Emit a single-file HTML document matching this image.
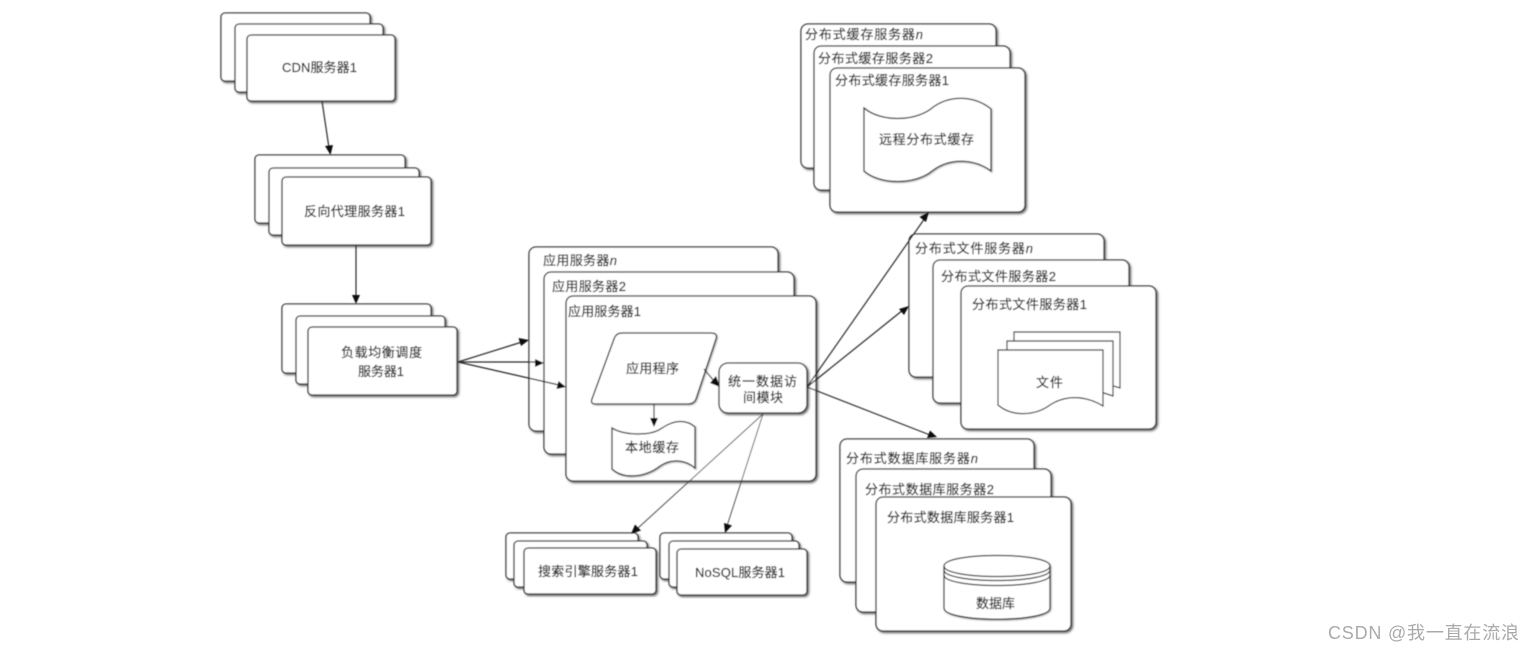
<!DOCTYPE html>
<html lang="zh">
<head>
<meta charset="utf-8">
<title>架构图</title>
<style>
html,body{margin:0;padding:0;background:#fff;}
body{width:1535px;height:652px;overflow:hidden;}
svg{display:block;}
.b{fill:#fff;stroke:#2e2e2e;stroke-width:1.3;filter:url(#sh);}
.s{fill:#fff;stroke:#333;stroke-width:1.3;filter:url(#sh2);}
.p{fill:#fff;stroke:#333;stroke-width:1.2;}
.l{fill:none;stroke:#2a2a2a;stroke-width:1.2;}
.t{fill:none;stroke:#444;stroke-width:0.9;}
.h{fill:#111;stroke:none;}
text{font-family:"Liberation Sans","Noto Sans CJK SC",sans-serif;font-size:13px;fill:#222;stroke:#222;stroke-width:0.2;}
.wm{font-size:18px;fill:#aaa;stroke:none;}
</style>
</head>
<body>
<svg width="1535" height="652" viewBox="0 0 1535 652" xmlns="http://www.w3.org/2000/svg">
<defs>
<filter id="sh" x="-5%" y="-5%" width="112%" height="112%">
<feDropShadow dx="1.5" dy="1.5" stdDeviation="1" flood-color="#444" flood-opacity="0.8"/>
</filter>
<filter id="sh2" x="-5%" y="-5%" width="112%" height="112%">
<feDropShadow dx="0.8" dy="0.8" stdDeviation="0.7" flood-color="#666" flood-opacity="0.6"/>
</filter>
<filter id="blur" x="0" y="0" width="100%" height="100%" filterUnits="userSpaceOnUse" primitiveUnits="userSpaceOnUse">
<feGaussianBlur stdDeviation="0.55"/>
</filter>
</defs>
<rect width="1535" height="652" fill="#fff"/>
<g filter="url(#blur)">
<!-- CDN -->
<rect class="b" x="221" y="13" width="149" height="68" rx="4"/>
<rect class="b" x="235" y="24" width="148" height="68" rx="4"/>
<rect class="b" x="247" y="35" width="148" height="66" rx="4"/>
<text x="282" y="72" textLength="75">CDN服务器1</text>
<!-- Reverse proxy -->
<rect class="b" x="255" y="155" width="150" height="68" rx="4"/>
<rect class="b" x="269" y="168" width="150" height="67" rx="4"/>
<rect class="b" x="282" y="177" width="149" height="68" rx="4"/>
<text x="304" y="216" textLength="101">反向代理服务器1</text>
<!-- Load balancer -->
<rect class="b" x="282" y="304" width="149" height="69" rx="4"/>
<rect class="b" x="296" y="316" width="149" height="68" rx="4"/>
<rect class="b" x="308" y="327" width="149" height="68" rx="4"/>
<text x="341" y="357" textLength="81">负载均衡调度</text>
<text x="358" y="376" textLength="46">服务器1</text>
<!-- App servers -->
<rect class="b" x="529" y="247" width="249" height="184" rx="7"/>
<rect class="b" x="544" y="272" width="250" height="182" rx="7"/>
<rect class="b" x="566" y="296" width="250" height="185" rx="7"/>
<text x="543" y="265" textLength="74">应用服务器<tspan font-style="italic">n</tspan></text>
<text x="552" y="291" textLength="74">应用服务器2</text>
<text x="568" y="316" textLength="73">应用服务器1</text>
<path class="s" d="M622 333H711Q718 333 716 339L696 399Q694 404 688 404H596Q590 404 592 399L614 339Q616 333 622 333Z"/>
<text x="626" y="373" textLength="53">应用程序</text>
<rect class="b" x="719" y="363" width="88" height="50" rx="9"/>
<text x="728" y="386" textLength="69">统一数据访</text>
<text x="743" y="402" textLength="40">间模块</text>
<path class="s" d="M612 428C622 435 650 437 662 428C674 420 686 419 695 427V468C686 460 672 458 660 466C646 477 624 480 612 469Z"/>
<text x="625" y="452" textLength="54">本地缓存</text>
<!-- Cache servers -->
<rect class="b" x="801" y="24" width="195" height="144" rx="7"/>
<rect class="b" x="814" y="46" width="196" height="144" rx="7"/>
<rect class="b" x="830" y="68" width="195" height="144" rx="7"/>
<text x="805" y="39" textLength="118">分布式缓存服务器<tspan font-style="italic">n</tspan></text>
<text x="818" y="63" textLength="115">分布式缓存服务器2</text>
<text x="835" y="85" textLength="114">分布式缓存服务器1</text>
<path class="s" d="M864 108C880 122 915 122 932 108C950 94 975 96 991 109V171C975 159 950 157 932 171C915 185 880 185 864 171Z"/>
<text x="879" y="144" textLength="95">远程分布式缓存</text>
<!-- File servers -->
<rect class="b" x="909" y="234" width="195" height="143" rx="7"/>
<rect class="b" x="933" y="260" width="196" height="143" rx="7"/>
<rect class="b" x="961" y="286" width="195" height="143" rx="7"/>
<text x="915" y="253" textLength="118">分布式文件服务器<tspan font-style="italic">n</tspan></text>
<text x="941" y="281" textLength="115">分布式文件服务器2</text>
<text x="972" y="309" textLength="115">分布式文件服务器1</text>
<path class="p" d="M1014 332H1120V388L1100 382H1014Z"/>
<path class="p" d="M1007 341H1113V396L1095 390H1007Z"/>
<path class="p" d="M998 350H1103V406C1085 395 1065 395 1050 405C1035 416 1012 417 998 405Z"/>
<text x="1036" y="387" textLength="27">文件</text>
<!-- DB servers -->
<rect class="b" x="840" y="439" width="194" height="143" rx="7"/>
<rect class="b" x="856" y="469" width="195" height="143" rx="7"/>
<rect class="b" x="876" y="497" width="195" height="134" rx="7"/>
<text x="846" y="463" textLength="132">分布式数据库服务器<tspan font-style="italic">n</tspan></text>
<text x="865" y="494" textLength="129">分布式数据库服务器2</text>
<text x="887" y="522" textLength="127">分布式数据库服务器1</text>
<path class="s" d="M944 566C944 552 1050 552 1050 566V608C1050 623 944 623 944 608Z"/>
<path class="l" d="M944 566C944 580 1050 580 1050 566M944 570C944 584 1050 584 1050 570M944 575C944 589 1050 589 1050 575"/>
<text x="976" y="608" textLength="39">数据库</text>
<!-- Search -->
<rect class="b" x="506" y="533" width="132" height="46" rx="4"/>
<rect class="b" x="514" y="541" width="133" height="46" rx="4"/>
<rect class="b" x="524" y="548" width="132" height="46" rx="4"/>
<text x="538" y="576" textLength="100">搜索引擎服务器1</text>
<!-- NoSQL -->
<rect class="b" x="660" y="533" width="132" height="46" rx="4"/>
<rect class="b" x="669" y="541" width="130" height="46" rx="4"/>
<rect class="b" x="677" y="549" width="130" height="46" rx="4"/>
<text x="695" y="577" textLength="90">NoSQL服务器1</text>
<!-- Connectors -->
<path class="l" d="M322 101L329 148"/>
<polygon class="h" points="330.500,155 325,146 333,145"/>
<path class="l" d="M356 245V297"/>
<polygon class="h" points="356,304 352,295 360,295"/>
<path class="l" d="M458 362L522 342M458 362H537M458 362L559 385"/>
<polygon class="h" points="529,340 521,346 518.500,338"/>
<polygon class="h" points="544,363 535,367 535,359"/>
<polygon class="h" points="566,387 556.500,389 558.500,381"/>
<path class="l" d="M704 369L714 381"/>
<polygon class="h" points="720,387 710,383 716,376"/>
<path class="l" d="M654 404V420"/>
<polygon class="h" points="654,427 650,418 658,418"/>
<path class="l" d="M807 387L925 218M807 387L903 310M807 387L930 435"/>
<polygon class="h" points="929,212 926,222 919.500,217"/>
<polygon class="h" points="909,306 904,315 899,309"/>
<polygon class="h" points="937,437 927,438 930,430.500"/>
<path class="t" d="M763 414L638 528"/>
<polygon class="h" points="631,534 635,524.500 641,530.500"/>
<path class="t" d="M763 414L727 526"/>
<polygon class="h" points="725,533 724,523 732,525.500"/>
</g>
<text class="wm" x="1328" y="639" textLength="191">CSDN @我一直在流浪</text>
</svg>
</body>
</html>
